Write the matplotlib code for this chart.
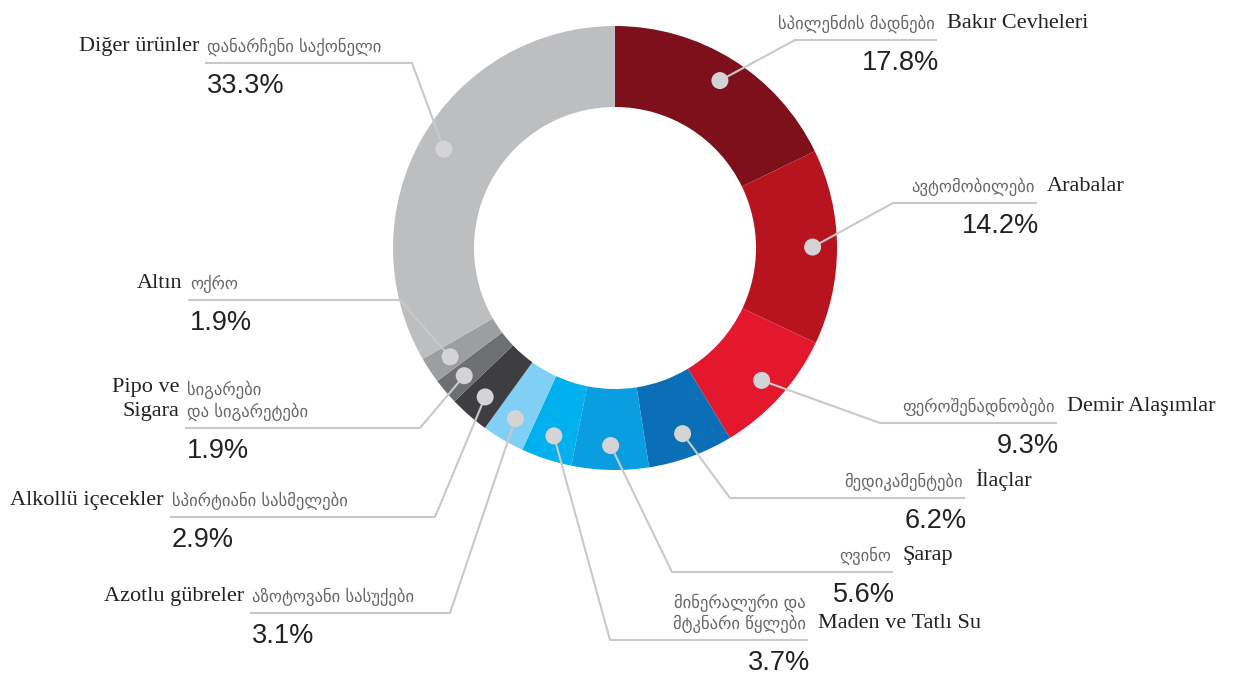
import matplotlib
matplotlib.use("Agg")
import matplotlib.pyplot as plt
import numpy as np
from matplotlib import font_manager

W, H = 1236, 679

# data, clockwise from 12 o'clock
turkish = ["Bakır Cevheleri", "Arabalar", "Demir Alaşımlar", "İlaçlar", "Şarap",
           "Maden ve Tatlı Su", "Azotlu gübreler", "Alkollü içecekler",
           "Pipo ve\nSigara", "Altın", "Diğer ürünler"]
georgian = ["სპილენძის მადნები", "ავტომობილები", "ფეროშენადნობები", "მედიკამენტები",
            "ღვინო", "მინერალური და\nმტკნარი წყლები", "აზოტოვანი სასუქები",
            "სპირტიანი სასმელები", "სიგარები\nდა სიგარეტები", "ოქრო", "დანარჩენი საქონელი"]
shares = [17.8, 14.2, 9.3, 6.2, 5.6, 3.7, 3.1, 2.9, 1.9, 1.9, 33.3]
colors = ["#7e101c", "#b8141f", "#e4182c", "#0b6fb7", "#0a9ee0", "#00b0ef",
          "#7fd0f4", "#3e3e40", "#6e6f71", "#9d9ea0", "#bdbec0"]

# label layout in pixels (top-down): elbow x, elbow y, end of underline x, side
layout = [
    (795, 40, 937, "r"),
    (893, 203, 1037, "r"),
    (880, 423, 1057, "r"),
    (730, 498, 965, "r"),
    (672, 572, 893, "r"),
    (610, 640, 808, "r"),
    (450, 613, 250, "l"),
    (435, 517, 170, "l"),
    (420, 428, 185, "l"),
    (400, 300, 188, "l"),
    (412, 63, 205, "l"),
]

names = {f.name for f in font_manager.fontManager.ttflist}
if "Liberation Sans Narrow" in names:
    num_font, num_size = "Liberation Sans Narrow", 24
else:
    num_font, num_size = "Liberation Sans", 19.5

fig = plt.figure(figsize=(W / 100, H / 100), dpi=100)
ax = fig.add_axes([0, 0, 1, 1])

cx, cy, R = 615, H - 248, 222
wedges, _ = ax.pie(shares, colors=colors, startangle=90, counterclock=False,
                   center=(cx, cy), radius=R,
                   wedgeprops=dict(width=81, linewidth=0))

line_col = "#c9c9c9"
for w, tr, ka, pct, (ex, ey, lx, side) in zip(wedges, turkish, georgian, shares, layout):
    th = np.deg2rad((w.theta1 + w.theta2) / 2)
    dx, dy = cx + 0.89 * R * np.cos(th), cy + 0.89 * R * np.sin(th)
    ax.plot([dx, ex, lx], [dy, H - ey, H - ey], color=line_col, lw=1.5,
            solid_capstyle="butt", zorder=2)
    ax.scatter([dx], [dy], s=150, color="#d4d4d6", edgecolors="none", zorder=3)

    ty = H - ey + 7
    if side == "r":
        ax.text(lx - 2, ty, ka, ha="right", va="bottom", fontsize=12,
                family="DejaVu Sans", color="#666666", linespacing=1.2)
        ax.text(lx + 10, ty, tr, ha="left", va="bottom", fontsize=16,
                family="Liberation Serif", color="#222222")
        ax.text(lx + 2, H - ey - 10, f"{pct}%", ha="right", va="top",
                fontsize=num_size, family=num_font, color="#222222")
    else:
        ax.text(lx + 2, ty, ka, ha="left", va="bottom", fontsize=12,
                family="DejaVu Sans", color="#666666", linespacing=1.2)
        ax.text(lx - 6, ty, tr, ha="right", va="bottom", fontsize=16,
                family="Liberation Serif", color="#222222", linespacing=1.35)
        ax.text(lx + 2, H - ey - 10, f"{pct}%", ha="left", va="top",
                fontsize=num_size, family=num_font, color="#222222")

ax.set_xlim(0, W)
ax.set_ylim(0, H)
ax.set_aspect("auto")
ax.axis("off")

fig.savefig("out.png", dpi=100, facecolor="white")
